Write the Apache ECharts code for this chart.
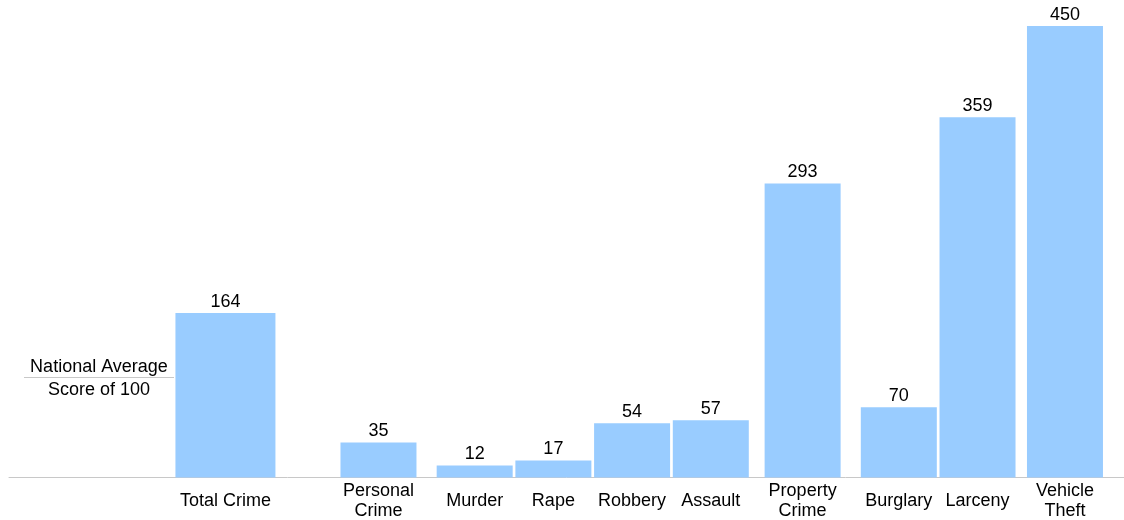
<!DOCTYPE html>
<html>
<head>
<meta charset="utf-8">
<script src="https://cdn.jsdelivr.net/npm/echarts@6/dist/echarts.min.js"></script>
<style>
html,body{margin:0;padding:0;background:#fff;}
#chart{width:1124px;height:520px;}
</style>
</head>
<body>
<div id="chart"></div>
<script>
// ---- data ----
const categories = ['Total Crime', 'Personal\nCrime', 'Murder', 'Rape', 'Robbery', 'Assault', 'Property\nCrime', 'Burglary', 'Larceny', 'Vehicle\nTheft'];
const scores = [164, 35, 12, 17, 54, 57, 293, 70, 359, 450];
const nationalAverage = 100;
const refLabelTop = 'National Average';
const refLabelBottom = 'Score of 100';

// ---- layout (slot index of each category on a fine category band) ----
const slotCount = 255;
const slotOf = [49, 84, 106, 124, 142, 160, 181, 203, 221, 241];
const wideIndex = 0; // the Total Crime bar is drawn wider

const axisCats = new Array(slotCount).fill('');
const narrowData = new Array(slotCount).fill(null);
const wideData = new Array(slotCount).fill(null);
categories.forEach((c, i) => {
  axisCats[slotOf[i]] = c;
  if (i === wideIndex) wideData[slotOf[i]] = scores[i];
  else narrowData[slotOf[i]] = scores[i];
});

const FONT = 'Liberation Sans, Arial, sans-serif';
const BAR = '#99ccff';
const labelStyle = { show: true, position: 'top', distance: 2, color: '#000', fontFamily: FONT, fontSize: 18 };

const chart = echarts.init(document.getElementById('chart'), null, { renderer: 'canvas' });
chart.setOption({
  animation: false,
  backgroundColor: '#fff',
  grid: [
    { left: 9, right: 0, top: 26, bottom: 42.5, containLabel: false, outerBoundsMode: 'none' },
    { left: 24, width: 150, top: 26, bottom: 42.5, containLabel: false, outerBoundsMode: 'none' }
  ],
  xAxis: [
    {
      type: 'category', gridIndex: 0, data: axisCats,
      axisLine: { show: true, lineStyle: { color: '#c8c8c8', width: 1 } },
      axisTick: { show: false },
      axisLabel: { interval: 0, color: '#000', fontFamily: FONT, fontSize: 18, lineHeight: 20, verticalAlign: 'middle', margin: 24 }
    },
    {
      type: 'category', gridIndex: 0, data: axisCats, position: 'bottom',
      axisLine: { show: false }, axisTick: { show: false }, axisLabel: { show: false }
    },
    {
      type: 'value', gridIndex: 1, min: 0, max: 1, show: false
    }
  ],
  yAxis: [
    { type: 'value', gridIndex: 0, min: 0, max: 450, show: false },
    { type: 'value', gridIndex: 1, min: 0, max: 450, show: false }
  ],
  series: [
    {
      type: 'bar', xAxisIndex: 0, yAxisIndex: 0, data: narrowData, barWidth: 76,
      itemStyle: { color: BAR }, label: labelStyle
    },
    {
      type: 'bar', xAxisIndex: 1, yAxisIndex: 0, data: wideData, barWidth: 100,
      itemStyle: { color: BAR }, label: labelStyle
    },
    {
      type: 'line', xAxisIndex: 2, yAxisIndex: 1, data: [], silent: true,
      markLine: {
        silent: true, symbol: 'none',
        lineStyle: { color: '#c8c8c8', width: 1, type: 'solid' },
        data: [
          { yAxis: nationalAverage, label: { show: true, position: 'insideMiddleTop', formatter: refLabelTop, color: '#000', fontFamily: FONT, fontSize: 18, distance: 1 } },
          { yAxis: nationalAverage, label: { show: true, position: 'insideMiddleBottom', formatter: refLabelBottom, color: '#000', fontFamily: FONT, fontSize: 18, distance: 4 } }
        ]
      }
    }
  ]
});
</script>
</body>
</html>
